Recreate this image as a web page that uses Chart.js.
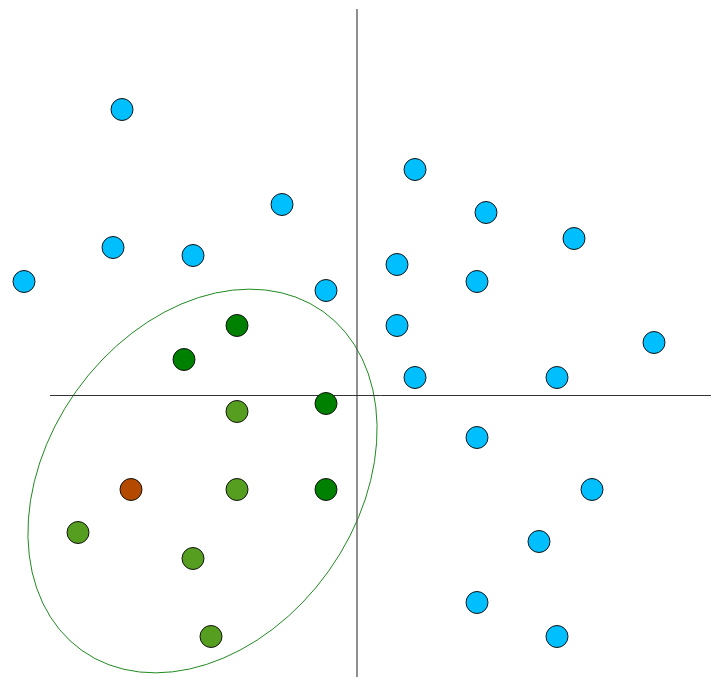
<!DOCTYPE html>
<html>
<head>
<meta charset="utf-8">
<script src="https://cdn.jsdelivr.net/npm/chart.js@4/dist/chart.umd.min.js"></script>
<style>
  html, body { margin: 0; padding: 0; background: #ffffff; }
  #wrap { width: 711px; height: 677px; }
</style>
</head>
<body>
<div id="wrap"><canvas id="c" width="711" height="677"></canvas></div>
<script>
// Data (axis units; origin where the two axis lines cross)
const blueX = [-235, -75, -244, -164, -333, -31, 58, 129, 217, 40, 120, 40, 297, 58, 200, 120, 235, 182, 120, 200];
const blueY = [286, 191, 148, 140, 114, 105, 226, 183, 157, 131, 114, 70, 53, 18, 18, -42, -94, -146, -207, -241];
const darkGreenX = [-120, -173, -31, -31];
const darkGreenY = [70, 36, -8, -94];
const lightGreenX = [-120, -120, -279, -164, -146];
const lightGreenY = [-16, -94, -137, -163, -241];
const orangeX = [-226];
const orangeY = [-94];
// Axis line extents
const hAxisX = [-307, 354];
const vAxisY = [386.5, -281.5];
// Ellipse: centerX, centerY, semi-major, semi-minor, rotation (deg)
const ellipse = [-154.5, -85.5, 208, 155, 54.6];
// Scale ranges
const xRange = [-357, 354];
const yRange = [-281.5, 395.5];

const pts = (xs, ys) => xs.map((x, i) => ({ x: x, y: ys[i] }));

const ellipsePlugin = {
  id: 'ellipse',
  beforeDatasetsDraw(chart) {
    const xs = chart.scales.x, ys = chart.scales.y;
    const [cx, cy, a, b, rot] = ellipse;
    const px = xs.getPixelForValue(cx), py = ys.getPixelForValue(cy);
    const ra = Math.abs(xs.getPixelForValue(cx + a) - px);
    const rb = Math.abs(ys.getPixelForValue(cy + b) - py);
    const ctx = chart.ctx;
    ctx.save();
    ctx.beginPath();
    ctx.ellipse(px, py, ra, rb, -rot * Math.PI / 180, 0, Math.PI * 2);
    ctx.strokeStyle = '#1f8a1f';
    ctx.lineWidth = 1;
    ctx.stroke();
    ctx.restore();
  }
};

const pointDs = (label, xs, ys, color) => ({
  type: 'scatter', label, data: pts(xs, ys),
  backgroundColor: color, borderColor: '#111111', borderWidth: 1,
  pointRadius: 11, pointHoverRadius: 11, clip: false, order: 0
});

new Chart(document.getElementById('c'), {
  type: 'scatter',
  data: {
    datasets: [
      { type: 'line', label: 'hAxis', data: pts(hAxisX, [0, 0]), borderColor: '#333333', borderWidth: 1,
        pointRadius: 0, fill: false, showLine: true, order: 10, clip: false },
      { type: 'line', label: 'vAxis', data: pts([0, 0], vAxisY), borderColor: '#555555', borderWidth: 1.3,
        pointRadius: 0, fill: false, showLine: true, order: 10, clip: false },
      pointDs('blue', blueX, blueY, '#00bfff'),
      pointDs('darkGreen', darkGreenX, darkGreenY, '#008000'),
      pointDs('lightGreen', lightGreenX, lightGreenY, '#569e20'),
      pointDs('orange', orangeX, orangeY, '#b44a00')
    ]
  },
  options: {
    responsive: false,
    animation: false,
    devicePixelRatio: 1,
    layout: { padding: 0, autoPadding: false },
    plugins: { legend: { display: false }, tooltip: { enabled: false } },
    scales: {
      x: { type: 'linear', min: xRange[0], max: xRange[1], display: false },
      y: { type: 'linear', min: yRange[0], max: yRange[1], display: false }
    }
  },
  plugins: [ellipsePlugin]
});
</script>
</body>
</html>
